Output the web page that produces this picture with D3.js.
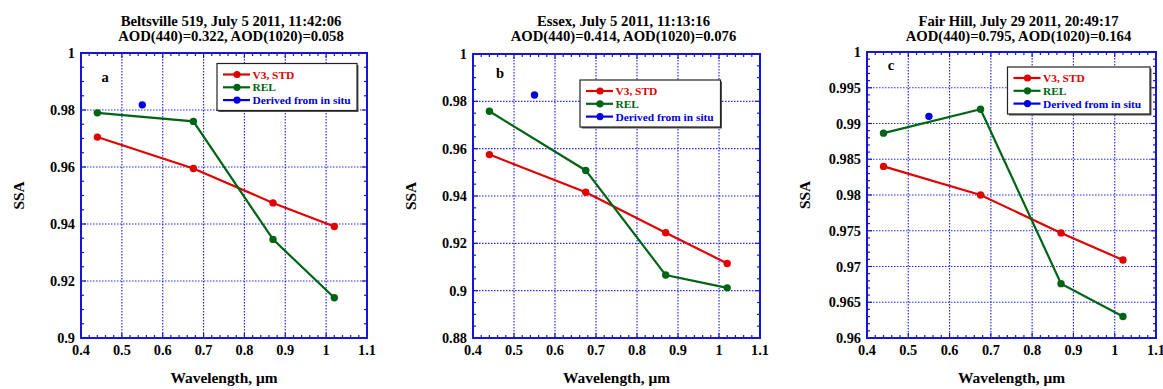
<!DOCTYPE html>
<html><head><meta charset="utf-8">
<script src="https://cdn.jsdelivr.net/npm/d3@7"></script>
<style>
body{margin:0;background:#fff;}
</style></head>
<body><svg id="chart" width="1163" height="389"></svg>
<script>
// ---- data ----
const wavelengths = [0.44, 0.675, 0.87, 1.02];
const insituWavelength = 0.55;
const seriesNames = ["V3, STD", "REL", "Derived from in situ"];
const panelLetters = ["a", "b", "c"];
const titleLine1 = ["Beltsville 519, July 5 2011, 11:42:06", "Essex, July 5 2011, 11:13:16", "Fair Hill, July 29 2011, 20:49:17"];
const titleLine2 = ["AOD(440)=0.322, AOD(1020)=0.058", "AOD(440)=0.414, AOD(1020)=0.076", "AOD(440)=0.795, AOD(1020)=0.164"];
const v3Std_a = [0.9705, 0.9595, 0.9474, 0.9391];
const rel_a   = [0.9790, 0.9760, 0.9346, 0.9141];
const insitu_a = [0.9818];
const v3Std_b = [0.9575, 0.9416, 0.9245, 0.9115];
const rel_b   = [0.9758, 0.9508, 0.9066, 0.9012];
const insitu_b = [0.9827];
const v3Std_c = [0.9840, 0.9800, 0.9747, 0.9709];
const rel_c   = [0.98865, 0.9920, 0.9676, 0.9630];
const insitu_c = [0.9910];
const xTicks = [0.4, 0.5, 0.6, 0.7, 0.8, 0.9, 1, 1.1];
const yTicks_a = [0.9, 0.92, 0.94, 0.96, 0.98, 1];
const yTicks_b = [0.88, 0.9, 0.92, 0.94, 0.96, 0.98, 1];
const yTicks_c = [0.96, 0.965, 0.97, 0.975, 0.98, 0.985, 0.99, 0.995, 1];
const yTickLabels_c = ["0.96", "0.965", "0.97", "0.975", "0.98", "0.985", "0.99", "0.995", "1"];

const colors = ["#e00000", "#006414", "#0000e0"];
const frameColor = "#1515d8";
const gridColor = "#2a2af0";
const FONT = '"Liberation Serif"';

const panels = [
  {v3: v3Std_a, rel: rel_a, ins: insitu_a, yTicks: yTicks_a, yLabels: yTicks_a.map(String), yMinorStep: 0.005,
   box: {l: 81, r: 367, t: 53, b: 338}, legend: {x: 217, y: 63.5, w: 140, h: 47}, letter: {x: 105, y: 82}},
  {v3: v3Std_b, rel: rel_b, ins: insitu_b, yTicks: yTicks_b, yLabels: yTicks_b.map(String), yMinorStep: 0.005,
   box: {l: 473, r: 760, t: 54, b: 338}, legend: {x: 580, y: 80, w: 140.5, h: 47}, letter: {x: 500, y: 77.5}},
  {v3: v3Std_c, rel: rel_c, ins: insitu_c, yTicks: yTicks_c, yLabels: yTickLabels_c, yMinorStep: 0.001,
   box: {l: 867, r: 1156, t: 52, b: 338}, legend: {x: 1007.5, y: 67, w: 142.5, h: 47}, letter: {x: 891, y: 70}}
];

const svg = d3.select("#chart");
function txt(sel) { return sel.append("text").style("font-family", FONT).style("font-weight", "bold"); }

panels.forEach((p, i) => {
  const B = p.box;
  const yMin = d3.min(p.yTicks), yMax = d3.max(p.yTicks);
  const x = d3.scaleLinear().domain([0.4, 1.1]).range([B.l, B.r]);
  const y = d3.scaleLinear().domain([yMin, yMax]).range([B.b, B.t]);
  const g = svg.append("g");

  // title
  const cx = (B.l + B.r) / 2 + 7;
  txt(g).attr("x", cx).attr("y", 25.5).attr("text-anchor", "middle").style("font-size", "14.7px").text(titleLine1[i]);
  txt(g).attr("x", cx).attr("y", 41).attr("text-anchor", "middle").style("font-size", "14.7px").text(titleLine2[i]);

  // grid
  g.selectAll(".gx").data(xTicks.slice(1, -1)).enter().append("line")
    .attr("x1", d => x(d)).attr("x2", d => x(d)).attr("y1", B.t).attr("y2", B.b)
    .attr("stroke", gridColor).attr("stroke-width", 1.2).attr("stroke-dasharray", "1.5,1.5");
  g.selectAll(".gy").data(p.yTicks.slice(1, -1)).enter().append("line")
    .attr("y1", d => y(d)).attr("y2", d => y(d)).attr("x1", B.l).attr("x2", B.r)
    .attr("stroke", gridColor).attr("stroke-width", 1.2).attr("stroke-dasharray", "1.5,1.5");

  // minor ticks
  const xMinor = d3.range(0.4, 1.1001, 0.02);
  const nY = Math.round((yMax - yMin) / p.yMinorStep);
  const yMinor = d3.range(0, nY + 1).map(k => yMin + k * p.yMinorStep);
  const tk = g.append("g").attr("stroke", frameColor).attr("stroke-width", 1.2);
  xMinor.forEach(v => {
    const major = xTicks.some(t => Math.abs(t - v) < 1e-6);
    const L = major ? 5 : 3;
    tk.append("line").attr("x1", x(v)).attr("x2", x(v)).attr("y1", B.b).attr("y2", B.b - L);
    tk.append("line").attr("x1", x(v)).attr("x2", x(v)).attr("y1", B.t).attr("y2", B.t + L);
  });
  yMinor.forEach(v => {
    const major = p.yTicks.some(t => Math.abs(t - v) < 1e-6);
    const L = major ? 5 : 3;
    tk.append("line").attr("y1", y(v)).attr("y2", y(v)).attr("x1", B.l).attr("x2", B.l + L);
    tk.append("line").attr("y1", y(v)).attr("y2", y(v)).attr("x1", B.r).attr("x2", B.r - L);
  });

  // frame
  g.append("rect").attr("x", B.l).attr("y", B.t).attr("width", B.r - B.l).attr("height", B.b - B.t)
    .attr("fill", "none").attr("stroke", frameColor).attr("stroke-width", 2);

  // tick labels
  xTicks.forEach(d => {
    txt(g).attr("x", x(d)).attr("y", B.b + 17).attr("text-anchor", "middle").style("font-size", "14.3px").text(String(d));
  });
  p.yTicks.forEach((d, k) => {
    txt(g).attr("x", B.l - 6).attr("y", y(d) + 5).attr("text-anchor", "end").style("font-size", "14.3px").text(p.yLabels[k]);
  });

  // axis titles
  txt(g).attr("x", (B.l + B.r) / 2).attr("y", 383).attr("text-anchor", "middle").style("font-size", "15.4px")
    .text("Wavelength, μm");
  txt(g).attr("transform", `translate(${B.l - 57},${(B.t + B.b) / 2}) rotate(-90)`)
    .attr("text-anchor", "middle").style("font-size", "15.4px").text("SSA");

  // letter
  txt(g).attr("x", p.letter.x).attr("y", p.letter.y).attr("text-anchor", "middle").style("font-size", "14.5px").text(panelLetters[i]);

  // series
  const line = d3.line().x(d => x(d[0])).y(d => y(d[1]));
  const s1 = wavelengths.map((w, k) => [w, p.v3[k]]);
  const s2 = wavelengths.map((w, k) => [w, p.rel[k]]);
  const s3 = p.ins.map(v => [insituWavelength, v]);
  [s1, s2].forEach((s, k) => {
    g.append("path").datum(s).attr("d", line).attr("fill", "none").attr("stroke", colors[k]).attr("stroke-width", 2.2);
  });
  [s1, s2, s3].forEach((s, k) => {
    g.selectAll(null).data(s).enter().append("circle")
      .attr("cx", d => x(d[0])).attr("cy", d => y(d[1])).attr("r", 3.7).attr("fill", colors[k]);
  });

  // legend
  const L = p.legend;
  const lg = g.append("g").attr("transform", `translate(${L.x},${L.y})`);
  lg.append("rect").attr("x", 1.5).attr("y", 1.5).attr("width", L.w).attr("height", L.h).attr("fill", "#555");
  lg.append("rect").attr("width", L.w).attr("height", L.h).attr("fill", "#fff").attr("stroke", "#222").attr("stroke-width", 1.2);
  seriesNames.forEach((nm, k) => {
    const ry = 11 + k * 12.8;
    lg.append("line").attr("x1", 6).attr("x2", 33).attr("y1", ry).attr("y2", ry).attr("stroke", colors[k]).attr("stroke-width", 2.2);
    lg.append("circle").attr("cx", 20).attr("cy", ry).attr("r", 3.6).attr("fill", colors[k]);
    txt(lg).attr("x", 35.5).attr("y", ry + 4).style("font-size", "11.4px").attr("fill", colors[k]).text(nm);
  });
});
</script></body></html>
